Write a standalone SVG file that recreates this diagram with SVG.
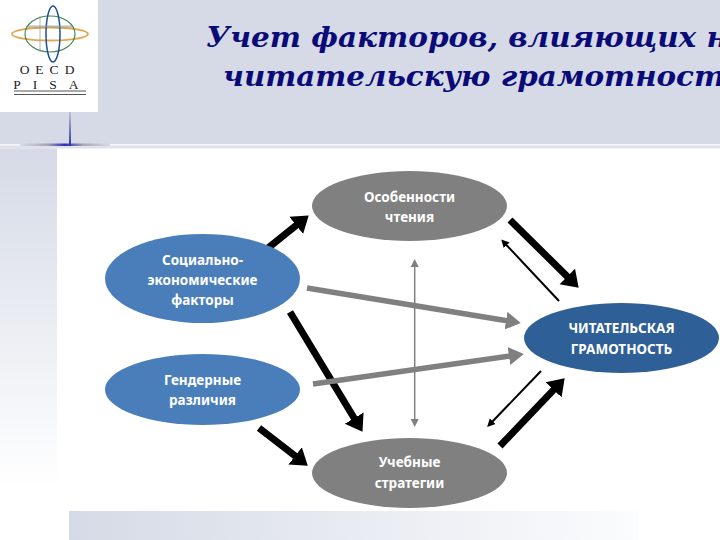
<svg xmlns="http://www.w3.org/2000/svg" width="720" height="540" viewBox="0 0 720 540">
<style>
.title{font-family:"DejaVu Serif","Liberation Serif",serif;font-weight:bold;font-style:italic;font-size:28px;fill:#0a0a78}
.lbl{font-family:"Noto Sans","Open Sans","Liberation Sans",sans-serif;font-weight:700;font-size:13.500px;fill:#fff;text-anchor:middle}
.blue{fill:#4a7ebb}.gray{fill:#808080}.navy{fill:#2f5f97}
.k{fill:none;stroke:#000}
.thick{stroke-width:7;marker-end:url(#hb)}
.thin{stroke-width:2;marker-end:url(#ht)}
.g{fill:none;stroke:#808080}
.wide{stroke-width:5.500;marker-end:url(#hg)}
.logotext{font-family:"Liberation Serif",serif;font-size:13.500px;fill:#222;text-anchor:middle}
</style>
<defs>
<marker id="hb" markerUnits="userSpaceOnUse" markerWidth="18" markerHeight="24" refX="1" refY="12" orient="auto"><path d="M0 1L16 12L0 23z" fill="#000"/></marker>
<marker id="hg" markerUnits="userSpaceOnUse" markerWidth="16" markerHeight="20" refX="1" refY="10" orient="auto"><path d="M0 1L15 10L0 19z" fill="#808080"/></marker>
<marker id="ht" markerUnits="userSpaceOnUse" markerWidth="9" markerHeight="10" refX="1" refY="5" orient="auto"><path d="M0 1L8 5L0 9z" fill="#000"/></marker>
<marker id="hv" markerUnits="userSpaceOnUse" markerWidth="9" markerHeight="10" refX="1" refY="5" orient="auto-start-reverse"><path d="M0 1L8 5L0 9z" fill="#808080"/></marker>
<linearGradient id="leftFade" x1="0" y1="0" x2="0" y2="1"><stop offset="0" stop-color="#d5dae6"/><stop offset="1" stop-color="#fff"/></linearGradient>
<linearGradient id="bottomFade" x1="0" y1="0" x2="1" y2="0"><stop offset="0" stop-color="#d5dae6"/><stop offset="1" stop-color="#fbfcfd"/></linearGradient>
<linearGradient id="hCross"><stop offset="0" stop-color="#d5dae6"/><stop offset=".3" stop-color="#a8a8b4"/><stop offset=".5" stop-color="#2a2fb0"/><stop offset=".7" stop-color="#a8a8b4"/><stop offset="1" stop-color="#d5dae6"/></linearGradient>
<linearGradient id="vCross" x1="0" y1="0" x2="0" y2="1"><stop offset="0" stop-color="#c4c6cc"/><stop offset="1" stop-color="#2a2fb0"/></linearGradient>
</defs>
<rect width="720" height="540" fill="#fff"/>
<rect width="720" height="144" fill="#d5dae6"/>
<rect x="0" y="144" width="720" height="1.500" fill="#f4f5f8"/>
<rect x="0" y="145.500" width="720" height="3" fill="#dfe2ea"/>
<rect x="0" y="148.500" width="57" height="340" fill="url(#leftFade)"/>
<rect x="69" y="511" width="570" height="29" fill="url(#bottomFade)"/>
<rect x="20" y="143.500" width="90" height="2.500" fill="url(#hCross)"/>
<rect x="69" y="112" width="2" height="34" fill="url(#vCross)"/>
<g id="logo">
<rect width="98" height="112" fill="#fff"/>
<ellipse cx="50" cy="34" rx="38" ry="6.500" fill="none" stroke="#e0a94e" stroke-width="1.800"/>
<ellipse cx="50" cy="34" rx="25" ry="18" fill="none" stroke="#3f8a4f" stroke-width="1.200"/>
<ellipse cx="53" cy="34" rx="7" ry="28" fill="none" stroke="#1e4f96" stroke-width="1.500"/>
<path d="M40 16V52M28 26H73M28 27H73" fill="none" stroke="#8a9a9a" stroke-width=".7"/>
<text class="logotext" x="50" y="74" letter-spacing="6">OECD</text>
<text class="logotext" x="52" y="89" letter-spacing="12">PISA</text>
<path d="M14 91H86M14 94.500H86" stroke="#555" stroke-width="1"/>
</g>
<text class="title" x="206" y="47" textLength="522" lengthAdjust="spacingAndGlyphs">Учет факторов, влияющих н</text>
<text class="title" x="223" y="86" textLength="502" lengthAdjust="spacingAndGlyphs">читательскую грамотност</text>
<g id="connectors">
<path class="k thick" d="M268 248L297 224.800"/>
<path class="k thick" d="M510 220L568 277.200"/>
<path class="k thick" d="M290 312L354.700 419"/>
<path class="k thick" d="M259 428L295.900 456.500"/>
<path class="k thick" d="M500 446L554.300 389.100"/>
<path class="k thin" d="M559 301L506 244.500"/>
<path class="k thin" d="M541 371L492 422"/>
<path class="g" stroke-width="1.500" d="M414.700 266V420" marker-start="url(#hv)" marker-end="url(#hv)"/>
<path class="g wide" d="M307 288L507 320.800"/>
<path class="g wide" d="M313 384L510 356"/>
</g>
<g id="node-social"><ellipse class="blue" cx="202.500" cy="278.500" rx="97.500" ry="44.500"/><text class="lbl" x="202.500" y="265">Социально-</text><text class="lbl" x="202.500" y="285">экономические</text><text class="lbl" x="202.500" y="305">факторы</text></g>
<g id="node-gender"><ellipse class="blue" cx="202.500" cy="389.500" rx="97.500" ry="35.500"/><text class="lbl" x="202.500" y="385">Гендерные</text><text class="lbl" x="202.500" y="405">различия</text></g>
<g id="node-reading"><ellipse class="gray" cx="409.500" cy="206" rx="97.500" ry="35"/><text class="lbl" x="409.500" y="202">Особенности</text><text class="lbl" x="409.500" y="222">чтения</text></g>
<g id="node-strategies"><ellipse class="gray" cx="409.500" cy="473" rx="97.500" ry="35"/><text class="lbl" x="409.500" y="467">Учебные</text><text class="lbl" x="409.500" y="488">стратегии</text></g>
<g id="node-literacy"><ellipse class="navy" cx="621.500" cy="338" rx="97.500" ry="35"/><text class="lbl" x="621.500" y="333">ЧИТАТЕЛЬСКАЯ</text><text class="lbl" x="621.500" y="354">ГРАМОТНОСТЬ</text></g>
</svg>
